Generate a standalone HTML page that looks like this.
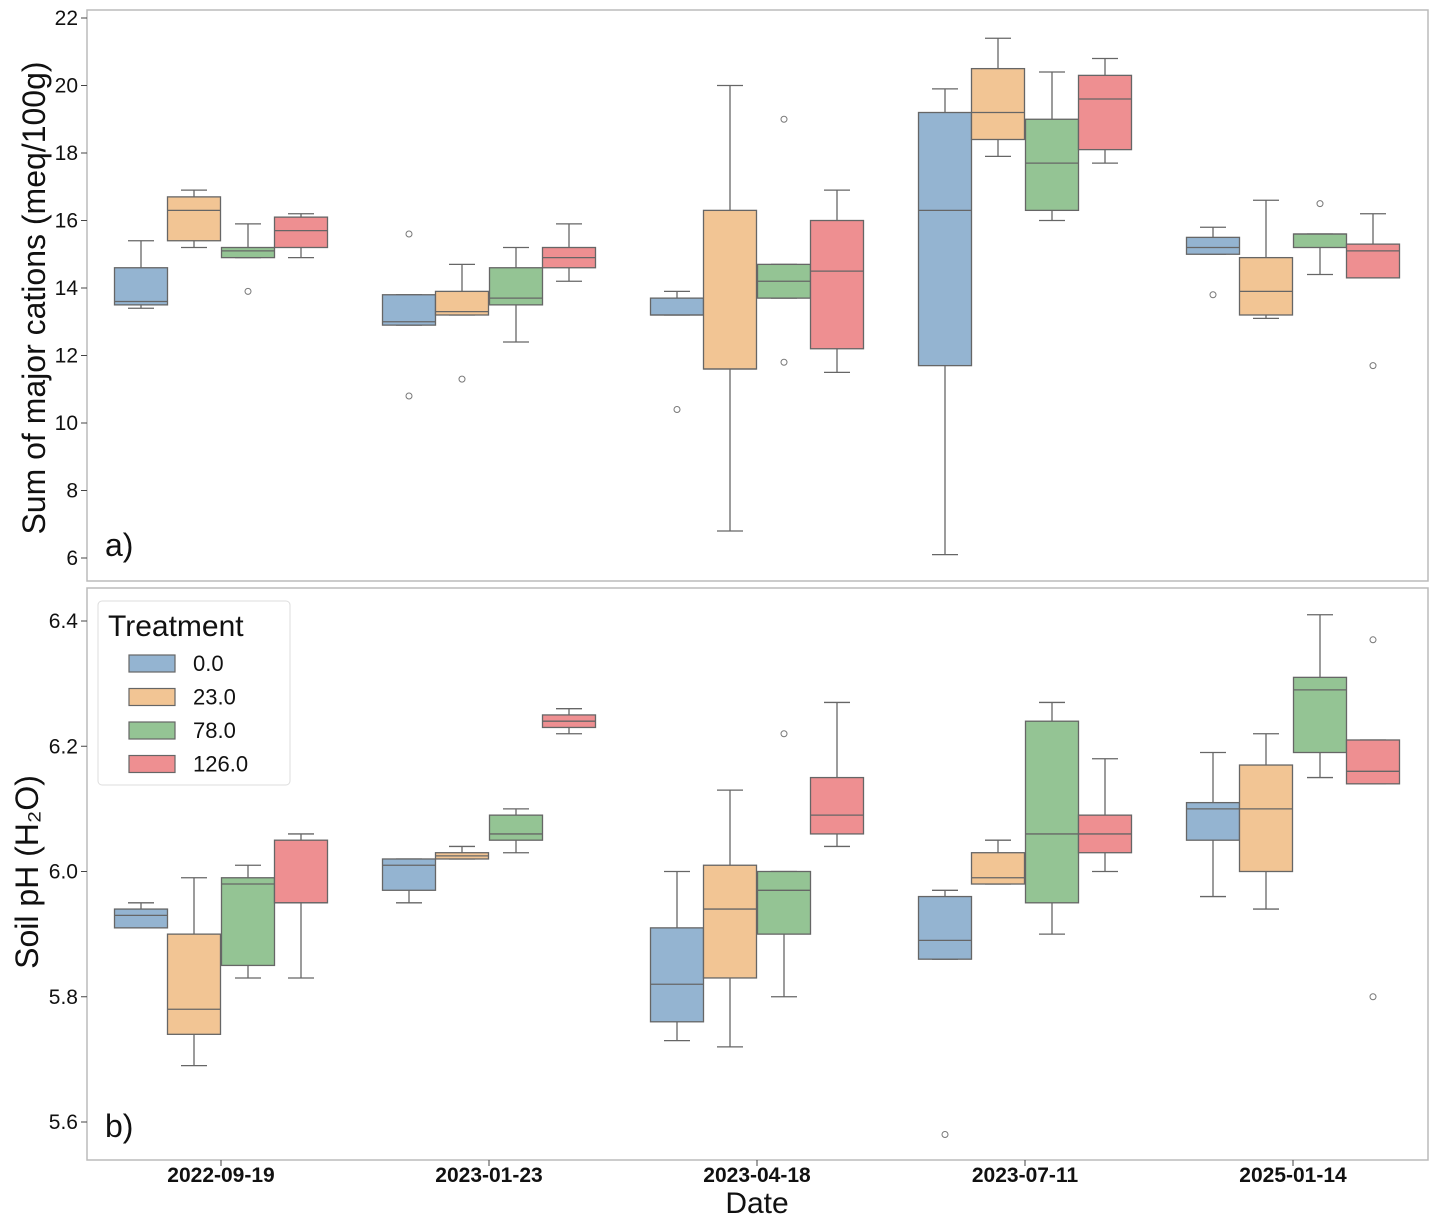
<!DOCTYPE html>
<html><head><meta charset="utf-8"><style>
body{margin:0;background:#fff}
svg{display:block;font-family:"Liberation Sans",sans-serif}
</style></head><body>
<svg id="chart" width="1441" height="1225" xmlns="http://www.w3.org/2000/svg"></svg>
<script>
const dates=["2022-09-19","2023-01-23","2023-04-18","2023-07-11","2025-01-14"];
const treatments=["0.0","23.0","78.0","126.0"];
const fills=["#94b4d1","#f2c594","#94c494","#ee8f91"];
// [whislo,q1,med,q3,whishi]
const cations=[
 [[13.4,13.5,13.6,14.6,15.4],[15.2,15.4,16.3,16.7,16.9],[14.9,14.9,15.1,15.2,15.9],[14.9,15.2,15.7,16.1,16.2]],
 [[12.9,12.9,13.0,13.8,13.8],[13.2,13.2,13.3,13.9,14.7],[12.4,13.5,13.7,14.6,15.2],[14.2,14.6,14.9,15.2,15.9]],
 [[13.2,13.2,13.2,13.7,13.9],[6.8,11.6,11.6,16.3,20.0],[13.7,13.7,14.2,14.7,14.7],[11.5,12.2,14.5,16.0,16.9]],
 [[6.1,11.7,16.3,19.2,19.9],[17.9,18.4,19.2,20.5,21.4],[16.0,16.3,17.7,19.0,20.4],[17.7,18.1,19.6,20.3,20.8]],
 [[15.0,15.0,15.2,15.5,15.8],[13.1,13.2,13.9,14.9,16.6],[14.4,15.2,15.6,15.6,15.6],[14.3,14.3,15.1,15.3,16.2]]
];
const cationOutliers=[[[],[],[13.9],[]],[[15.6,10.8],[11.3],[],[]],[[10.4],[],[19.0,11.8],[]],[[],[],[],[]],[[13.8],[],[16.5],[11.7]]];
const ph=[
 [[5.91,5.91,5.93,5.94,5.95],[5.69,5.74,5.78,5.90,5.99],[5.83,5.85,5.98,5.99,6.01],[5.83,5.95,5.95,6.05,6.06]],
 [[5.95,5.97,6.01,6.02,6.02],[6.02,6.02,6.025,6.03,6.04],[6.03,6.05,6.06,6.09,6.10],[6.22,6.23,6.24,6.25,6.26]],
 [[5.73,5.76,5.82,5.91,6.00],[5.72,5.83,5.94,6.01,6.13],[5.80,5.90,5.97,6.00,6.00],[6.04,6.06,6.09,6.15,6.27]],
 [[5.86,5.86,5.89,5.96,5.97],[5.98,5.98,5.99,6.03,6.05],[5.90,5.95,6.06,6.24,6.27],[6.00,6.03,6.06,6.09,6.18]],
 [[5.96,6.05,6.10,6.11,6.19],[5.94,6.00,6.10,6.17,6.22],[6.15,6.19,6.29,6.31,6.41],[6.14,6.14,6.16,6.21,6.21]]
];
const phOutliers=[[[],[],[],[]],[[],[],[],[]],[[],[],[6.22],[]],[[5.58],[],[],[]],[[],[],[],[6.37,5.80]]];
const cationTicks=[6,8,10,12,14,16,18,20,22];
const phTicks=[5.6,5.8,6.0,6.2,6.4];

const svg=document.getElementById('chart');
const NS="http://www.w3.org/2000/svg";
function mk(tag,attrs,parent){const e=document.createElementNS(NS,tag);for(const k in attrs)e.setAttribute(k,attrs[k]);(parent||svg).appendChild(e);return e;}
const xGroup=i=>221+268*i;
const offs=[-80,-27,27,80];
const BW=53;
const yA=v=>18+(22-v)*33.75;
const yB=v=>621+(6.4-v)*626.25;

function panel(name,y0,y1,data,outs,ticks,yfn,fmt,label,labelY,ylab,ylabX,ylabY){
  const g=mk('g',{});
  
  
  const fr=mk('rect',{x:87,y:y0,width:1341,height:y1-y0,fill:'none',stroke:'#bbb','stroke-width':1.5},g);
  
  
  ticks.forEach(t=>{
    mk('line',{x1:81,x2:87,y1:yfn(t),y2:yfn(t),stroke:'#444'},g);
    const tx=mk('text',{x:78,y:yfn(t)+7,'text-anchor':'end','font-size':21,fill:'#111'},g);
    tx.textContent=fmt(t);
    
    
  });
  data.forEach((grp,i)=>grp.forEach((b,j)=>{
    const cx=xGroup(i)+offs[j];
    const bg=mk('g',{},g);
    
    
    const st={stroke:'#666','stroke-width':1.3};
    mk('line',Object.assign({x1:cx,x2:cx,y1:yfn(b[0]),y2:yfn(b[1])},st),bg);
    mk('line',Object.assign({x1:cx,x2:cx,y1:yfn(b[3]),y2:yfn(b[4])},st),bg);
    mk('line',Object.assign({x1:cx-13,x2:cx+13,y1:yfn(b[0]),y2:yfn(b[0])},st),bg);
    mk('line',Object.assign({x1:cx-13,x2:cx+13,y1:yfn(b[4]),y2:yfn(b[4])},st),bg);
    mk('rect',Object.assign({x:cx-BW/2,y:yfn(b[3]),width:BW,height:Math.max(1,yfn(b[1])-yfn(b[3])),fill:fills[j]},st),bg);
    mk('line',Object.assign({x1:cx-BW/2,x2:cx+BW/2,y1:yfn(b[2]),y2:yfn(b[2])},st),bg);
    outs[i][j].forEach(o=>{const c=mk('circle',{cx:cx,cy:yfn(o),r:3,fill:'none',stroke:'#777'},bg);
      });
  }));
  const pl=mk('text',{x:105,y:labelY,'font-size':32,fill:'#111'},g);
  pl.textContent=label;
  
  
  const yl=mk('text',{x:ylabX,y:ylabY,'font-size':32,fill:'#111','text-anchor':'middle',transform:`rotate(-90 ${ylabX} ${ylabY})`},g);
  yl.textContent=ylab;
  
  
}
panel('panel-a-cations',10,581,cations,cationOutliers,cationTicks,yA,t=>String(t),'a)',556,'Sum of major cations (meq/100g)',45,298);
panel('panel-b-ph',588,1160,ph,phOutliers,phTicks,yB,t=>t.toFixed(1),'b)',1137,'Soil pH (H\u2082O)',38,872);

dates.forEach((d,i)=>{
  mk('line',{x1:xGroup(i),x2:xGroup(i),y1:1160,y2:1166,stroke:'#444'});
  const t=mk('text',{x:xGroup(i),y:1182,'text-anchor':'middle','font-size':21,fill:'#111','font-weight':600});
  t.textContent=d;
  
  
});
const xt=mk('text',{x:757,y:1213,'text-anchor':'middle','font-size':30,fill:'#111'});
xt.textContent='Date';



const lg=mk('g',{});


mk('rect',{x:98,y:601,width:192,height:184,fill:'#fff',stroke:'#ddd',rx:4},lg);
const lt=mk('text',{x:108,y:636,'font-size':30,fill:'#111'},lg);
lt.textContent='Treatment';


treatments.forEach((t,j)=>{
  const e=mk('g',{},lg);
  
  
  const yy=655+j*33.5;
  mk('rect',{x:129,y:yy,width:46,height:17,fill:fills[j],stroke:'#666','stroke-width':1.2},e);
  const tx=mk('text',{x:193,y:yy+16,'font-size':22,fill:'#111'},e);
  tx.textContent=t;
});
</script>
</body></html>
